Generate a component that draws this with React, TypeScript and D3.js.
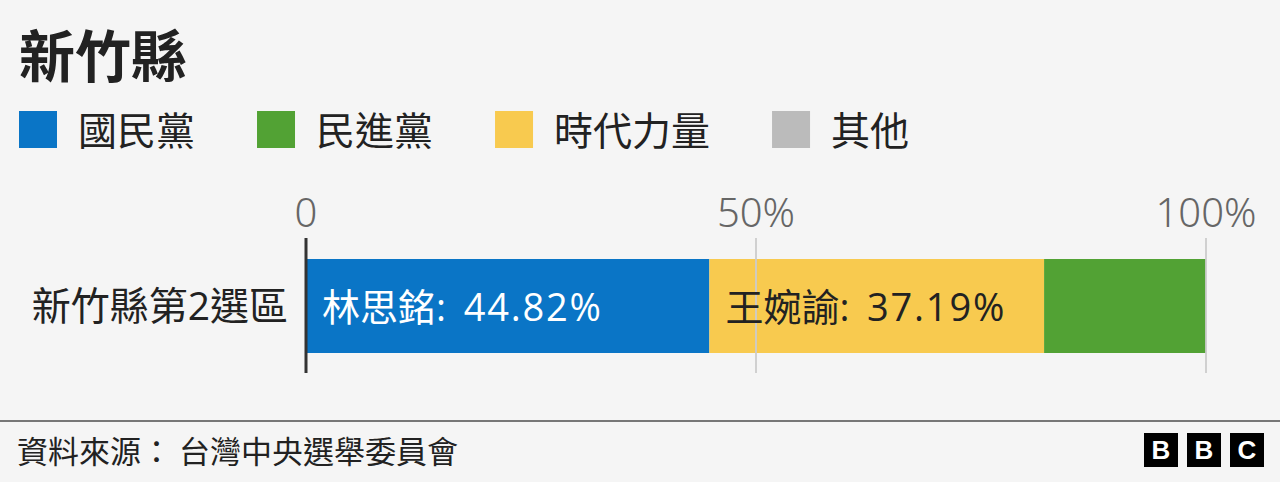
import React, { useEffect, useRef } from "react";
import * as d3 from "d3";

const TITLE = "新竹縣";
const PARTIES = ["國民黨", "民進黨", "時代力量", "其他"];
const PARTY_COLORS = ["#0a75c6", "#52a234", "#f8ca4f", "#bbbbbb"];
const CATEGORY = "新竹縣第2選區";
// segments in drawing order
const SEG_PARTY = ["國民黨", "時代力量", "民進黨"];
const SEG_VALUES = [44.82, 37.19, 17.99];
const SEG_NAMES = ["林思銘", "王婉諭", ""];
const SEG_LABEL_COLORS = ["#ffffff", "#222222", "#ffffff"];
const TICKS = [0, 50, 100];
const TICK_LABELS = ["0", "50%", "100%"];
const SOURCE = "資料來源： 台灣中央選舉委員會";

const W = 1280;
const H = 482;
const FONT = "'Noto Sans CJK TC', 'Noto Sans', sans-serif";
const MIXFONT = "'Open Sans', 'Noto Sans CJK TC', sans-serif";

export default function App() {
  const ref = useRef<SVGSVGElement>(null);

  useEffect(() => {
    const svg = d3.select(ref.current);
    svg.selectAll("*").remove();

    svg.append("rect").attr("width", W).attr("height", H).attr("fill", "#f5f5f5");

    // Title
    svg.append("text").attr("x", 19).attr("y", 77)
      .attr("font-family", FONT).attr("font-size", 56).attr("font-weight", 700)
      .attr("fill", "#222").text(TITLE);

    // Legend
    let lx = 19;
    PARTIES.forEach((p, i) => {
      svg.append("rect").attr("x", lx).attr("y", 111).attr("width", 38).attr("height", 37)
        .attr("fill", PARTY_COLORS[i]);
      const t = svg.append("text").attr("x", lx + 59).attr("y", 145)
        .attr("font-family", FONT).attr("font-size", 39).attr("fill", "#222").text(p);
      const w = (t.node() as SVGTextElement).getComputedTextLength();
      lx = lx + 59 + w + 62;
    });

    const x = d3.scaleLinear().domain([0, 100]).range([306, 1206]);
    const barTop = 259, barH = 94;
    const gridTop = 238, gridBottom = 373;

    // tick labels
    TICKS.forEach((tv, i) => {
      svg.append("text").attr("x", x(tv)).attr("y", 227)
        .attr("text-anchor", "middle")
        .attr("font-family", "'Noto Sans', sans-serif").attr("font-size", 40)
        .attr("font-weight", 300)
        .attr("fill", "#666").text(TICK_LABELS[i]);
    });

    // stacked bar
    const stack: { party: string; x0: number; x1: number; v: number; name: string; lc: string }[] = [];
    let acc = 0;
    SEG_VALUES.forEach((v, i) => {
      stack.push({ party: SEG_PARTY[i], x0: acc, x1: acc + v, v, name: SEG_NAMES[i], lc: SEG_LABEL_COLORS[i] });
      acc += v;
    });
    const colorOf = d3.scaleOrdinal<string, string>().domain(PARTIES).range(PARTY_COLORS);
    svg.selectAll("rect.seg").data(stack).enter().append("rect")
      .attr("class", "seg")
      .attr("x", d => x(d.x0)).attr("y", barTop)
      .attr("width", d => x(d.x1) - x(d.x0)).attr("height", barH)
      .attr("fill", d => colorOf(d.party));

    // gridlines (non-zero)
    TICKS.filter(t => t !== 0).forEach(tv => {
      svg.append("line").attr("x1", x(tv)).attr("x2", x(tv))
        .attr("y1", gridTop).attr("y2", gridBottom)
        .attr("stroke", "#cccccc").attr("stroke-width", 2).attr("opacity", 0.9);
    });

    // zero line
    svg.append("line").attr("x1", x(0)).attr("x2", x(0))
      .attr("y1", gridTop).attr("y2", gridBottom)
      .attr("stroke", "#333").attr("stroke-width", 3);

    // segment labels
    const labels = svg.selectAll("text.seglabel").data(stack.filter(d => d.name)).enter().append("text")
      .attr("class", "seglabel")
      .attr("x", d => x(d.x0) + 16).attr("y", 321)
      .attr("font-family", MIXFONT).attr("font-size", 38)
      .attr("fill", d => d.lc);
    labels.append("tspan").text(d => d.name + ":");
    labels.append("tspan").attr("dx", 6).attr("letter-spacing", 1.8)
      .text(d => " " + d.v.toFixed(2) + "%");

    // category label
    svg.append("text").attr("x", 288).attr("y", 320)
      .attr("text-anchor", "end")
      .attr("font-family", MIXFONT).attr("font-size", 39).attr("fill", "#222").text(CATEGORY);

    // footer
    svg.append("line").attr("x1", 0).attr("x2", W).attr("y1", 421).attr("y2", 421)
      .attr("stroke", "#777").attr("stroke-width", 2);
    svg.append("text").attr("x", 17).attr("y", 463)
      .attr("font-family", FONT).attr("font-size", 31).attr("fill", "#222").text(SOURCE);

    // BBC logo
    ["B", "B", "C"].forEach((c, i) => {
      const bx = 1144 + i * 43;
      svg.append("rect").attr("x", bx).attr("y", 433).attr("width", 34).attr("height", 34).attr("fill", "#000");
      svg.append("text").attr("x", bx + 17).attr("y", 459).attr("text-anchor", "middle")
        .attr("font-family", "'Liberation Sans', Arial, sans-serif").attr("font-weight", 700)
        .attr("font-size", 26).attr("fill", "#fff").text(c);
    });
  }, []);

  return (
    <svg ref={ref} width={W} height={H}
      style={{ position: "absolute", left: 0, top: 0, display: "block" }} />
  );
}
